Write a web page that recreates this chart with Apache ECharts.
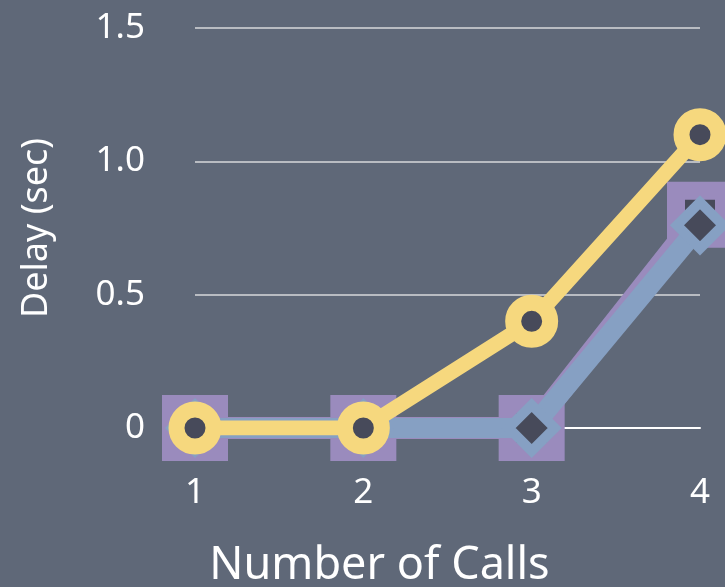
<!DOCTYPE html>
<html>
<head>
<meta charset="utf-8">
<script src="https://cdn.jsdelivr.net/npm/echarts@6/dist/echarts.min.js"></script>
<style>
  html, body { margin: 0; padding: 0; background: #5f6878; }
  #chart { width: 725px; height: 587px; }
</style>
</head>
<body>
<div id="chart"></div>
<script>
  // data
  var calls = ['1', '2', '3', '4'];
  var squareSeries = [0, 0, 0, 0.8];
  var diamondSeries = [0, 0, 0, 0.76];
  var circleSeries = [0, 0, 0.4, 1.1];

  var dark = '#474a5a';
  var font = 'Noto Sans';

  var myChart = echarts.init(document.getElementById('chart'));
  myChart.setOption({
    backgroundColor: '#5f6878',
    animation: false,
    grid: { left: 195, right: 25, top: 28, bottom: 159, outerBoundsMode: 'none' },
    xAxis: {
      type: 'category',
      data: calls,
      boundaryGap: false,
      name: 'Number of Calls',
      nameLocation: 'middle',
      nameGap: 116,
      nameTextStyle: { color: '#ffffff', fontSize: 45, fontFamily: font, padding: [0, 136, 0, 0] },
      axisLine: { show: true, lineStyle: { color: '#ffffff', width: 2 } },
      axisTick: { show: false },
      axisLabel: { color: '#ffffff', fontSize: 35, margin: 48, fontFamily: font },
      splitLine: { show: false }
    },
    yAxis: {
      type: 'value',
      min: 0,
      max: 1.5,
      interval: 0.5,
      name: 'Delay (sec)',
      nameLocation: 'middle',
      nameGap: 140,
      nameTextStyle: { color: '#ffffff', fontSize: 36, fontFamily: font },
      axisLine: { show: false },
      axisTick: { show: false },
      axisLabel: {
        color: '#ffffff', fontSize: 35, margin: 50, fontFamily: font,
        formatter: function (v) { return v === 0 ? '0' : v.toFixed(1); }
      },
      splitLine: { show: true, lineStyle: { color: '#b9bcc2', width: 2 } }
    },
    series: [
      {
        name: 'square',
        type: 'line',
        data: squareSeries,
        symbol: 'rect',
        symbolSize: 48,
        z: 2,
        lineStyle: { color: '#9a8bbd', width: 22 },
        itemStyle: { color: dark, borderColor: '#9a8bbd', borderWidth: 18 }
      },
      {
        name: 'diamond',
        type: 'line',
        data: diamondSeries,
        symbol: 'diamond',
        symbolSize: 46,
        z: 3,
        lineStyle: { color: '#86a0c3', width: 20 },
        itemStyle: { color: dark, borderColor: '#86a0c3', borderWidth: 10 }
      },
      {
        name: 'circle',
        type: 'line',
        data: circleSeries,
        symbol: 'circle',
        symbolSize: 37,
        z: 4,
        lineStyle: { color: '#f6d87e', width: 15 },
        itemStyle: { color: dark, borderColor: '#f6d87e', borderWidth: 16 }
      }
    ]
  });
</script>
</body>
</html>
